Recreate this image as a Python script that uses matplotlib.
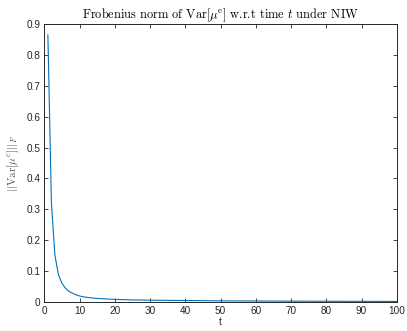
import matplotlib
matplotlib.use("Agg")
import matplotlib.pyplot as plt

# Values (t = 1..100)
t_values = list(range(1, 101))
frob_norm = [
  0.865, 0.320, 0.150, 0.088, 0.060, 0.044, 0.034, 0.028, 0.023, 0.019,
  0.0165, 0.0148, 0.0134, 0.0122, 0.0112, 0.0104, 0.0097, 0.0091, 0.0086, 0.0081,
  0.0077, 0.0073, 0.0070, 0.0067, 0.0064, 0.0062, 0.0060, 0.0058, 0.0056, 0.0055,
  0.0054, 0.0052, 0.0051, 0.0050, 0.0049, 0.0048, 0.0047, 0.0046, 0.0045, 0.0044,
  0.0043, 0.0042, 0.0041, 0.0040, 0.0039, 0.0038, 0.0037, 0.0036, 0.0035, 0.0034,
  0.0033, 0.0032, 0.0032, 0.0031, 0.0031, 0.0030, 0.0030, 0.0029, 0.0029, 0.0028,
  0.0028, 0.0027, 0.0027, 0.0026, 0.0026, 0.0025, 0.0025, 0.0024, 0.0024, 0.0023,
  0.0023, 0.0023, 0.0022, 0.0022, 0.0022, 0.0021, 0.0021, 0.0021, 0.0020, 0.0020,
  0.0020, 0.0019, 0.0019, 0.0019, 0.0018, 0.0018, 0.0018, 0.0018, 0.0017, 0.0017,
  0.0017, 0.0017, 0.0016, 0.0016, 0.0016, 0.0016, 0.0015, 0.0015, 0.0015, 0.0015,
]
x_ticks = [0, 10, 20, 30, 40, 50, 60, 70, 80, 90, 100]
y_ticks = [0, 0.1, 0.2, 0.3, 0.4, 0.5, 0.6, 0.7, 0.8, 0.9]
y_tick_labels = ["0", "0.1", "0.2", "0.3", "0.4", "0.5", "0.6", "0.7", "0.8", "0.9"]

plt.rcParams["font.family"] = ["Liberation Sans", "DejaVu Sans"]
plt.rcParams["mathtext.fontset"] = "cm"

axis_gray = "#262626"

fig = plt.figure(figsize=(4.07, 3.31), dpi=100)
ax = fig.add_axes([0.109, 0.088, 0.866, 0.839])

ax.plot(t_values, frob_norm, color="#0072BD", linewidth=0.8)

ax.set_xlim(0, 100)
ax.set_ylim(0, 0.9)
ax.set_xticks(x_ticks)
ax.set_yticks(y_ticks)
ax.set_yticklabels(y_tick_labels)

ax.tick_params(direction="in", length=3, width=0.6, colors=axis_gray,
               labelsize=7.2, top=True, right=True, pad=3)
for side in ax.spines.values():
  side.set_color(axis_gray)
  side.set_linewidth(0.7)

# LaTeX-looking title: Computer Modern for the words, mathtext for the symbols
ax.set_title(r"Frobenius norm of Var[$\mu^{\mathrm{e}}$] w.r.t time $t$ under NIW",
             fontsize=8.9, color="black", pad=4, family=["cmr10", "DejaVu Serif"])
ax.set_xlabel("t", fontsize=7.2, color=axis_gray, labelpad=1)
ax.set_ylabel(r"$||\mathrm{Var}[\mu^{e}]||_F$", fontsize=8, color="#555555", labelpad=4)

fig.savefig("out.png", dpi=100)
